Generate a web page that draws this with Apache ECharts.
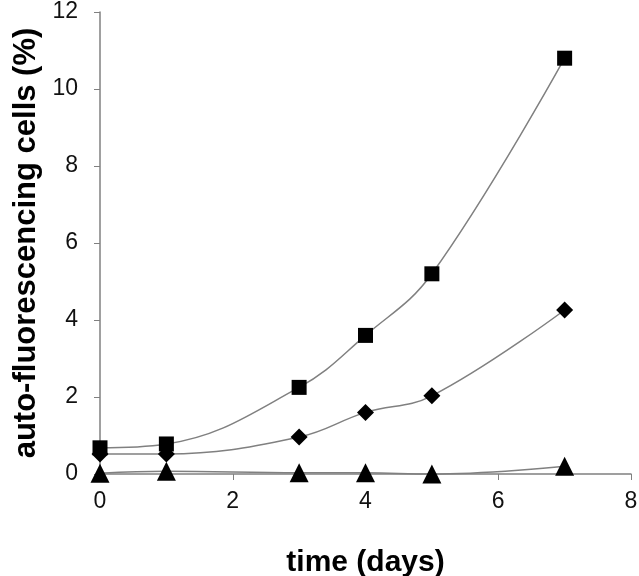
<!DOCTYPE html>
<html>
<head>
<meta charset="utf-8">
<script src="https://cdn.jsdelivr.net/npm/echarts@6/dist/echarts.min.js"></script>
<style>
  html, body { margin: 0; padding: 0; background: #fff; }
  #chart { width: 639px; height: 576px; }
</style>
</head>
<body>
<div id="chart"></div>
<script>
const days = [0, 1, 3, 4, 5, 7];
const squareVals = [0.68, 0.78, 2.25, 3.6, 5.2, 10.8];
const diamondVals = [0.52, 0.52, 0.96, 1.6, 2.03, 4.26];
const triangleVals = [0.02, 0.07, 0.03, 0.03, 0.0, 0.2];
const xTicks = [0, 2, 4, 6, 8];
const yTicks = [0, 2, 4, 6, 8, 10, 12];

const chart = echarts.init(document.getElementById('chart'));

const pairs = vals => days.map((d, i) => [d, vals[i]]);
const lineSeries = (vals, symbol, size) => ({
    type: 'line',
    data: pairs(vals),
    smooth: 0.4,
    symbol: symbol,
    symbolSize: size,
    clip: false,
    lineStyle: { color: '#808080', width: 1.5 },
    itemStyle: { color: '#000' },
    z: 3
});

chart.setOption({
    animation: false,
    grid: { left: 100, right: 8, top: 12, bottom: 102, outerBoundsMode: 'none', containLabel: false },
    xAxis: {
        type: 'value',
        min: xTicks[0],
        max: xTicks[xTicks.length - 1],
        interval: 2,
        name: 'time (days)',
        nameLocation: 'middle',
        nameGap: 74,
        nameTextStyle: { fontFamily: 'Liberation Sans', fontWeight: 'bold', fontSize: 30, color: '#000' },
        axisLine: { lineStyle: { color: '#808080', width: 1.5 } },
        axisTick: { show: true, length: 6, lineStyle: { color: '#808080' } },
        axisLabel: { fontFamily: 'Liberation Sans', fontSize: 23, color: '#111', margin: 16 },
        splitLine: { show: false }
    },
    yAxis: {
        type: 'value',
        min: yTicks[0],
        max: yTicks[yTicks.length - 1],
        interval: 2,
        name: 'auto-fluorescencing cells (%)',
        nameLocation: 'middle',
        nameGap: 56,
        nameTextStyle: { fontFamily: 'Liberation Sans', fontWeight: 'bold', fontSize: 31, color: '#000' },
        axisLine: { show: true, lineStyle: { color: '#808080', width: 1.5 } },
        axisTick: { show: true, length: 6, lineStyle: { color: '#808080' } },
        axisLabel: { fontFamily: 'Liberation Sans', fontSize: 23, color: '#111', margin: 22 },
        splitLine: { show: false }
    },
    series: [
        lineSeries(squareVals, 'rect', 15),
        lineSeries(diamondVals, 'diamond', 17),
        lineSeries(triangleVals, 'triangle', 19)
    ]
});
</script>
</body>
</html>
